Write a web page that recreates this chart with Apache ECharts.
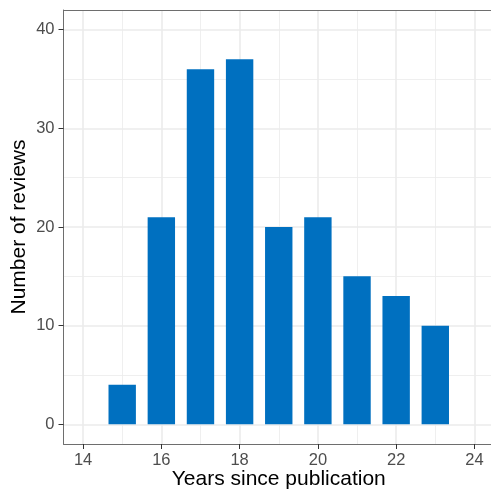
<!DOCTYPE html>
<html>
<head>
<meta charset="utf-8">
<script src="https://cdn.jsdelivr.net/npm/echarts@6/dist/echarts.min.js"></script>
<style>html,body{margin:0;padding:0;background:#fff;}#c{width:491px;height:492px;}</style>
</head>
<body>
<div id="c"></div>
<script>
var years = [15, 16, 17, 18, 19, 20, 21, 22, 23];
var reviews = [4, 21, 36, 37, 20, 21, 15, 13, 10];
var xMajorTicks = [14, 16, 18, 20, 22, 24];
var xMinorTicks = [15, 17, 19, 21, 23];
var yMajorTicks = [0, 10, 20, 30, 40];
var yMinorTicks = [5, 15, 25, 35];
var xTitle = 'Years since publication';
var yTitle = 'Number of reviews';

var chart = echarts.init(document.getElementById('c'), null, {renderer: 'canvas'});
var font = 'Liberation Sans, Arial, sans-serif';
var borderLine = {show: true, onZero: false, lineStyle: {color: '#6e6e6e', width: 1}};
var majorGrid = {show: true, lineStyle: {color: '#EBEBEB', width: 1.6}};
var minorGrid = {show: true, lineStyle: {color: '#EBEBEB', width: 0.8}};
var xMin = 13.5, xMax = 24.5, yMin = -2, yMax = 42;

chart.setOption({
  animation: false,
  backgroundColor: '#fff',
  grid: {left: 63.5, right: -3, top: 10, bottom: 48, show: false, containLabel: false, outerBoundsMode: 'none'},
  xAxis: [{
    type: 'value', min: xMin, max: xMax, position: 'bottom',
    name: xTitle, nameLocation: 'middle', nameGap: 25, nameMoveOverlap: false,
    nameTextStyle: {fontFamily: font, fontSize: 21, color: '#000'},
    axisLine: borderLine,
    axisTick: {show: true, customValues: xMajorTicks, length: 5, lineStyle: {color: '#333', width: 1}},
    axisLabel: {show: true, customValues: xMajorTicks, margin: 8, fontFamily: font, fontSize: 16.5, color: '#4D4D4D'},
    splitLine: majorGrid
  }, {
    type: 'value', min: xMin, max: xMax, position: 'top',
    axisLine: borderLine,
    axisTick: {show: false, customValues: xMinorTicks},
    axisLabel: {show: false, customValues: xMinorTicks},
    splitLine: minorGrid
  }],
  yAxis: [{
    type: 'value', min: yMin, max: yMax, position: 'left',
    name: yTitle, nameLocation: 'middle', nameGap: 34, nameMoveOverlap: false,
    nameTextStyle: {fontFamily: font, fontSize: 21, color: '#000'},
    axisLine: borderLine,
    axisTick: {show: true, customValues: yMajorTicks, length: 5, lineStyle: {color: '#333', width: 1}},
    axisLabel: {show: true, customValues: yMajorTicks, margin: 9, fontFamily: font, fontSize: 16.5, color: '#4D4D4D'},
    splitLine: majorGrid
  }, {
    type: 'value', min: yMin, max: yMax, position: 'left', offset: 0,
    axisLine: {show: false, onZero: false},
    axisTick: {show: false, customValues: yMinorTicks},
    axisLabel: {show: false, customValues: yMinorTicks},
    splitLine: minorGrid
  }],
  series: [{
    type: 'bar',
    xAxisIndex: 0, yAxisIndex: 0,
    data: years.map(function (y, i) { return [y, reviews[i]]; }),
    barWidth: 27.4,
    itemStyle: {color: '#0070C0'},
    z: 5
  }]
});
</script>
</body>
</html>
